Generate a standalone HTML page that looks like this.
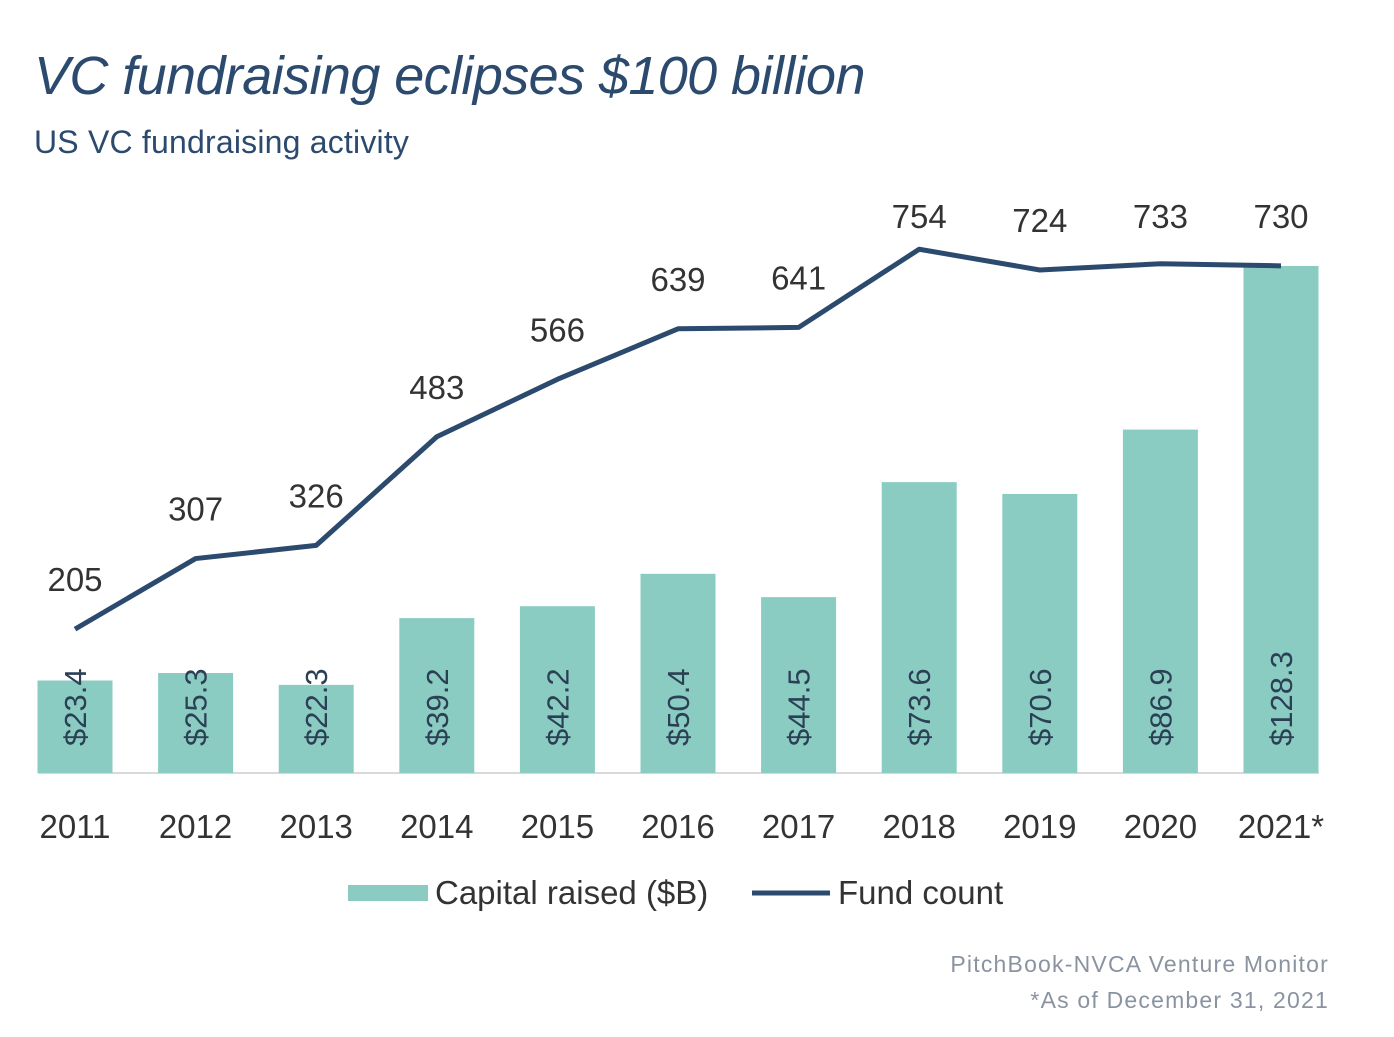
<!DOCTYPE html>
<html><head><meta charset="utf-8"><style>
body{margin:0;background:#fff;width:1394px;height:1032px;overflow:hidden;font-family:"Liberation Sans",sans-serif}
svg text{font-family:"Liberation Sans",sans-serif}
</style></head><body>
<svg id="chart" width="1394" height="1032" xmlns="http://www.w3.org/2000/svg">
<text x="34" y="94" font-size="54" font-style="italic" fill="#2b4a6e" letter-spacing="-0.6">VC fundraising eclipses $100 billion</text>
<text x="34" y="153" font-size="32" fill="#2b4a6e" letter-spacing="0.2">US VC fundraising activity</text>
<line x1="38" y1="773" x2="1319" y2="773" stroke="#d9d9d9" stroke-width="2"/>
<g id="bars"></g><g id="line"></g><g id="xlabels"></g>
<g>
<rect x="348" y="885" width="80" height="16" fill="#8accc2"/>
<text x="435" y="904" font-size="33" fill="#333">Capital raised ($B)</text>
<line x1="752" y1="893" x2="830" y2="893" stroke="#2b4a6e" stroke-width="5"/>
<text x="838" y="904" font-size="33" fill="#333">Fund count</text>
</g>
<text x="1329" y="972" font-size="23" fill="#8a93a0" text-anchor="end" letter-spacing="1.2">PitchBook-NVCA Venture Monitor</text>
<text x="1329" y="1008" font-size="23" fill="#8a93a0" text-anchor="end" letter-spacing="1.2">*As of December 31, 2021</text>
</svg>
<script>
const categories=["2011","2012","2013","2014","2015","2016","2017","2018","2019","2020","2021*"];
const capital=[23.4,25.3,22.3,39.2,42.2,50.4,44.5,73.6,70.6,86.9,128.3];
const fundCount=[205,307,326,483,566,639,641,754,724,733,730];
const NS="http://www.w3.org/2000/svg";
const x=i=>75+i*120.6;
const yBar=v=>773-v*3.952;
const yLine=v=>771-v*0.692;
function mk(t,a,p){const e=document.createElementNS(NS,t);for(const k in a)e.setAttribute(k,a[k]);p.appendChild(e);return e;}
const gb=document.getElementById('bars'),gl=document.getElementById('line'),gx=document.getElementById('xlabels');
capital.forEach((v,i)=>{
 const r=mk('rect',{x:x(i)-37.5,y:yBar(v),width:75,height:773-yBar(v),fill:'#8accc2'},gb);
 
 
 const t=mk('text',{x:0,y:0,transform:`translate(${x(i)+11},746) rotate(-90)`,'font-size':31,fill:'#2b3f55'},gb);
 t.textContent='$'+v.toFixed(1);
 
 
 const xl=mk('text',{x:x(i),y:838,'font-size':33,fill:'#333','text-anchor':'middle'},gx);
 xl.textContent=categories[i];
 
 
});
const pts=fundCount.map((v,i)=>x(i)+','+yLine(v)).join(' ');
const pl=mk('polyline',{points:pts,fill:'none',stroke:'#2b4a6e','stroke-width':5,'stroke-linejoin':'round'},gl);


fundCount.forEach((v,i)=>{
 const ly=Math.max(yLine(v)-38,228);
 const t=mk('text',{x:x(i),y:ly,'font-size':33,fill:'#333','text-anchor':'middle'},gl);
 t.textContent=v;
 
 
});
</script>
</body></html>
